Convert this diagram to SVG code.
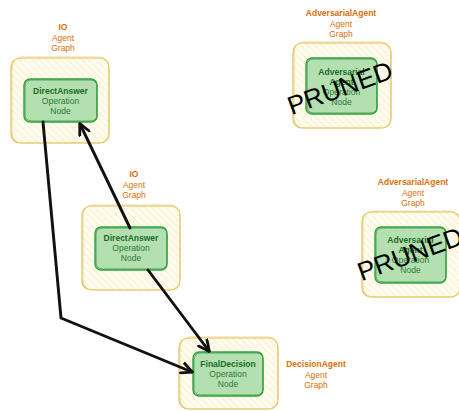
<svg xmlns="http://www.w3.org/2000/svg" width="459" height="411" viewBox="0 0 459 411">
<defs>
<pattern id="hatch" width="5" height="5" patternUnits="userSpaceOnUse" patternTransform="rotate(-45)">
<rect width="5" height="5" fill="#fffcef"/>
<line x1="0" y1="0" x2="0" y2="5" stroke="#f4e4ad" stroke-width="1"/>
</pattern>
<marker id="arr" viewBox="0 0 12 12" refX="10.5" refY="6" markerWidth="13" markerHeight="13" orient="auto" markerUnits="userSpaceOnUse">
<path d="M1,1.2 L11,6 L1,10.8" fill="none" stroke="#111" stroke-width="2.6" stroke-linejoin="round" stroke-linecap="round"/>
</marker>
</defs>
<style>
.outer{fill:url(#hatch);stroke:#e0c05a;stroke-width:1.2}
.outer2{fill:none;stroke:#ead27f;stroke-width:0.8}
.inner{fill:#b3dfb1;stroke:#35a23f;stroke-width:1.4}
.inner2{fill:none;stroke:#2f9e44;stroke-width:0.8}
.lbl{font-family:"Liberation Sans",Arial,sans-serif;font-size:8.5px;fill:#d9700a;text-anchor:middle}
.nt{font-family:"Liberation Sans",Arial,sans-serif;font-size:8.5px;fill:#2b7a33;text-anchor:middle}
.b{font-weight:bold}
.nb{fill:#1c6b24}
.pruned{font-family:"Liberation Sans",Arial,sans-serif;font-size:26px;fill:#000;text-anchor:middle}
.edge{fill:none;stroke:#111;stroke-width:2.9;stroke-linecap:round;stroke-linejoin:round}
</style>

<g id="node-io-top">
<rect class="outer" x="11" y="58" width="98" height="85" rx="9"/>
<rect class="outer2" x="12" y="57" width="97" height="86" rx="10"/>
<text class="lbl b" x="63" y="30">IO</text>
<text class="lbl" x="63" y="40.5">Agent</text>
<text class="lbl" x="63" y="51">Graph</text>
<rect class="inner" x="24" y="79" width="73" height="43" rx="6"/>
<rect class="inner2" x="25" y="80" width="72" height="41" rx="6"/>
<text class="nt b nb" x="60.5" y="94">DirectAnswer</text>
<text class="nt" x="60.5" y="104">Operation</text>
<text class="nt" x="60.5" y="114">Node</text>
</g>

<g id="node-adv-top">
<rect class="outer" x="293" y="43" width="98" height="85" rx="9"/>
<rect class="outer2" x="294" y="42" width="97" height="86" rx="10"/>
<text class="lbl b" x="341" y="16">AdversarialAgent</text>
<text class="lbl" x="341" y="26.5">Agent</text>
<text class="lbl" x="341" y="37">Graph</text>
<rect class="inner" x="306" y="58" width="71" height="56" rx="6"/>
<rect class="inner2" x="307" y="59" width="70" height="54" rx="6"/>
<text class="nt b nb" x="341.5" y="75">Adversarial</text>
<text class="nt b nb" x="341.5" y="85">Agent</text>
<text class="nt" x="341.5" y="95">Operation</text>
<text class="nt" x="341.5" y="105">Node</text>
<text class="pruned" x="340" y="97" transform="rotate(-20 340 88)">PRUNED</text>
</g>

<g id="node-io-mid">
<rect class="outer" x="82" y="206" width="98" height="84" rx="9"/>
<rect class="outer2" x="83" y="205" width="97" height="85" rx="10"/>
<text class="lbl b" x="134" y="177">IO</text>
<text class="lbl" x="134" y="187.5">Agent</text>
<text class="lbl" x="134" y="198">Graph</text>
<rect class="inner" x="95" y="227" width="72" height="43" rx="6"/>
<rect class="inner2" x="96" y="228" width="71" height="41" rx="6"/>
<text class="nt b nb" x="131" y="241">DirectAnswer</text>
<text class="nt" x="131" y="251">Operation</text>
<text class="nt" x="131" y="261">Node</text>
</g>

<g id="node-adv-right">
<rect class="outer" x="362" y="212" width="98" height="85" rx="9"/>
<rect class="outer2" x="363" y="211" width="97" height="86" rx="10"/>
<text class="lbl b" x="413" y="185">AdversarialAgent</text>
<text class="lbl" x="413" y="195.5">Agent</text>
<text class="lbl" x="413" y="206">Graph</text>
<rect class="inner" x="375" y="227" width="71" height="56" rx="6"/>
<rect class="inner2" x="376" y="228" width="70" height="54" rx="6"/>
<text class="nt b nb" x="410.5" y="243">Adversarial</text>
<text class="nt b nb" x="410.5" y="253">Agent</text>
<text class="nt" x="410.5" y="263">Operation</text>
<text class="nt" x="410.5" y="273">Node</text>
<text class="pruned" x="410" y="263" transform="rotate(-20 410 254)">PRUNED</text>
</g>

<g id="node-final">
<rect class="outer" x="179" y="338" width="99" height="71" rx="9"/>
<rect class="outer2" x="180" y="337" width="98" height="72" rx="10"/>
<rect class="inner" x="193" y="352" width="70" height="44" rx="6"/>
<rect class="inner2" x="194" y="353" width="69" height="42" rx="6"/>
<text class="nt b nb" x="228" y="367">FinalDecision</text>
<text class="nt" x="228" y="377">Operation</text>
<text class="nt" x="228" y="387">Node</text>
<text class="lbl b" x="316" y="367">DecisionAgent</text>
<text class="lbl" x="316" y="377.5">Agent</text>
<text class="lbl" x="316" y="388">Graph</text>
</g>

<g id="connectors">
<path class="edge" d="M130,228 L80,124" marker-end="url(#arr)"/>
<path class="edge" d="M43,122 L61,318 L192,372" marker-end="url(#arr)"/>
<path class="edge" d="M148,270 L209,351" marker-end="url(#arr)"/>
</g>
</svg>
